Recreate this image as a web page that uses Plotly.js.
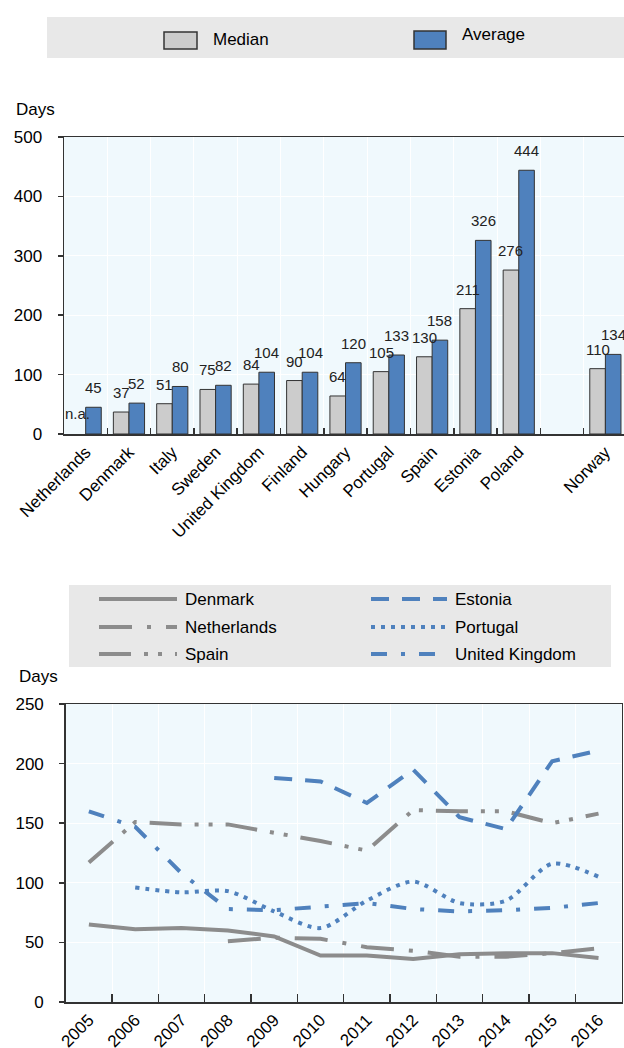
<!DOCTYPE html>
<html>
<head>
<meta charset="utf-8">
<script src="https://cdn.plot.ly/plotly-3.0.1.min.js"></script>
<style>
html,body{margin:0;padding:0;background:#fff;overflow:hidden;}
#chart{width:624px;height:1048px;}
</style>
</head>
<body>
<div id="chart"></div>
<script>
// ---- Data: top panel (bar chart) ----
const countries = ['Netherlands','Denmark','Italy','Sweden','United Kingdom','Finland','Hungary','Portugal','Spain','Estonia','Poland',' ','Norway'];
const medianDays = [null,37,51,75,84,90,64,105,130,211,276,null,110];
const averageDays = [45,52,80,82,104,104,120,133,158,326,444,null,134];
const naLabel = 'n.a.';

// ---- Data: bottom panel (line chart) ----
const years = ['2005','2006','2007','2008','2009','2010','2011','2012','2013','2014','2015','2016'];
const denmark     = [65,61,62,60,55,39,39,36,40,41,41,37];
const netherlands = [null,null,null,51,54,53,46,43,38,38,41,45];
const spain       = [117,151,149,149,142,135,127,161,160,160,150,158];
const estonia     = [null,null,null,null,188,185,167,195,155,145,202,211];
const portugal    = [null,96,92,93,76,62,85,101,83,85,116,105];
const unitedKingdom = [160,147,108,78,77,80,83,78,76,77,79,83];

// ---- Styling ----
const W = 624, H = 1048;
const px = x => x / W;
const py = y => 1 - y / H;
const FONT = 'Liberation Sans, Arial, sans-serif';
const GREY_BAR = '#cccccc', BLUE = '#4f81bd', GREY_LINE = '#8c8c8c';
const BG = '#f0f9fd', AXIS = '#333333';

const lineSeries = [
  {name:'Denmark', y:denmark, color:GREY_LINE, dash:'solid', shape:'linear'},
  {name:'Netherlands', y:netherlands, color:GREY_LINE, dash:'33px,15px,4px,15px', shape:'linear'},
  {name:'Spain', y:spain, color:GREY_LINE, dash:'32px,13px,4px,10px,4px,13px', shape:'linear'},
  {name:'Estonia', y:estonia, color:BLUE, dash:'18px,13px', shape:'linear'},
  {name:'Portugal', y:portugal, color:BLUE, dash:'4px,6px', shape:'spline'},
  {name:'United Kingdom', y:unitedKingdom, color:BLUE, dash:'16px,14px,4px,14px', shape:'linear'}
];

const traces = [
  {type:'bar', name:'Median', x:countries, y:medianDays, xaxis:'x', yaxis:'y',
   marker:{color:GREY_BAR, line:{color:AXIS, width:1}}, hoverinfo:'skip'},
  {type:'bar', name:'Average', x:countries, y:averageDays, xaxis:'x', yaxis:'y',
   marker:{color:BLUE, line:{color:AXIS, width:1}}, hoverinfo:'skip'}
];
lineSeries.forEach(s => traces.push({
  type:'scatter', mode:'lines', name:s.name, x:years, y:s.y, xaxis:'x2', yaxis:'y2',
  connectgaps:false, line:{color:s.color, width:4, dash:s.dash, shape:s.shape, smoothing:0.8},
  hoverinfo:'skip'
}));

// data labels for bars
const annotations = [];
const slotOffset = (1 - 0.28) / 4;
const labelFont = {family:FONT, size:15, color:'#222'};
medianDays.forEach((v, i) => {
  if (v !== null) annotations.push({xref:'x', yref:'y', x:i - slotOffset, y:v, text:String(v),
    showarrow:false, yanchor:'bottom', yshift:9, font:labelFont});
});
averageDays.forEach((v, i) => {
  if (v !== null) annotations.push({xref:'x', yref:'y', x:i + slotOffset, y:v, text:String(v),
    showarrow:false, yanchor:'bottom', yshift:9, font:labelFont});
});
annotations.push({xref:'x', yref:'y', x:0 - slotOffset, y:0, text:naLabel, showarrow:false,
  yanchor:'bottom', yshift:10, font:labelFont});

// axis unit labels
annotations.push({xref:'paper', yref:'paper', x:px(14), y:py(110), text:'Days', showarrow:false,
  xanchor:'left', yanchor:'middle', font:{family:FONT, size:17, color:'#000'}});
annotations.push({xref:'paper', yref:'paper', x:px(17), y:py(676), text:'Days', showarrow:false,
  xanchor:'left', yanchor:'middle', font:{family:FONT, size:17, color:'#000'}});

// ---- Custom legends ----
const shapes = [
  {type:'rect', xref:'paper', yref:'paper', x0:px(47), x1:px(624), y0:py(58), y1:py(17),
   fillcolor:'#e8e8e8', line:{width:0}, layer:'below'},
  {type:'rect', xref:'paper', yref:'paper', x0:px(164), x1:px(197), y0:py(49), y1:py(32),
   fillcolor:GREY_BAR, line:{color:AXIS, width:1.5}},
  {type:'rect', xref:'paper', yref:'paper', x0:px(414), x1:px(446), y0:py(49), y1:py(31),
   fillcolor:BLUE, line:{color:AXIS, width:1.5}},
  {type:'rect', xref:'paper', yref:'paper', x0:px(69), x1:px(611), y0:py(667), y1:py(585),
   fillcolor:'#e8e8e8', line:{width:0}, layer:'below'}
];
annotations.push({xref:'paper', yref:'paper', x:px(211), y:py(40), text:'Median', showarrow:false,
  xanchor:'left', yanchor:'middle', font:{family:FONT, size:17, color:'#000'}});
annotations.push({xref:'paper', yref:'paper', x:px(460), y:py(35), text:'Average', showarrow:false,
  xanchor:'left', yanchor:'middle', font:{family:FONT, size:17, color:'#000'}});

const legendRows = [599, 627, 654];
lineSeries.forEach((s, k) => {
  const col = Math.floor(k / 3), row = k % 3;
  const x0 = col === 0 ? 99 : 371, x1 = col === 0 ? 177 : 447, tx = col === 0 ? 183 : 453;
  const y = legendRows[row];
  shapes.push({type:'line', xref:'paper', yref:'paper', x0:px(x0), x1:px(x1), y0:py(y), y1:py(y),
    line:{color:s.color, width:4, dash:s.dash}});
  annotations.push({xref:'paper', yref:'paper', x:px(tx), y:py(y), text:s.name, showarrow:false,
    xanchor:'left', yanchor:'middle', font:{family:FONT, size:17, color:'#000'}});
});

const commonX = {
  type:'category', tickson:'boundaries', ticks:'inside', tickcolor:AXIS, tickwidth:1.5,
  showline:true, linecolor:AXIS, linewidth:1.5, mirror:true, showgrid:true, gridcolor:'#ffffff',
  gridwidth:1, tickangle:-45, tickfont:{family:FONT, size:17, color:'#000'}, zeroline:false, fixedrange:true
};
const commonY = {
  ticks:'outside', ticklen:5, tickcolor:AXIS, tickwidth:1.5, showline:true, linecolor:AXIS,
  linewidth:1.5, showgrid:true, gridcolor:'#ffffff', gridwidth:1, zeroline:false,
  ticklabelstandoff:12, tickfont:{family:FONT, size:17, color:'#000'}, fixedrange:true
};

const layout = {
  width:W, height:H, margin:{l:0, r:0, t:0, b:0}, paper_bgcolor:'#ffffff', plot_bgcolor:BG,
  showlegend:false, barmode:'group', bargap:0.28, bargroupgap:0,
  font:{family:FONT, size:17, color:'#000'},
  xaxis: Object.assign({}, commonX, {domain:[px(64), 1], anchor:'y', ticklen:6,
    categoryorder:'array', categoryarray:countries, range:[-0.5, 12.43]}),
  yaxis: Object.assign({}, commonY, {domain:[py(434), py(137)], anchor:'x', range:[0,500],
    tickvals:[0,100,200,300,400,500], mirror:false}),
  xaxis2: Object.assign({}, commonX, {domain:[px(65.7), px(621.7)], anchor:'y2', ticklen:8,
    categoryorder:'array', categoryarray:years, range:[-0.5, 11.5]}),
  yaxis2: Object.assign({}, commonY, {domain:[py(1002), py(704)], anchor:'x2', range:[0,250],
    tickvals:[0,50,100,150,200,250], mirror:true}),
  shapes:shapes,
  annotations:annotations
};

Plotly.newPlot('chart', traces, layout, {displayModeBar:false, staticPlot:true});
</script>
</body>
</html>
